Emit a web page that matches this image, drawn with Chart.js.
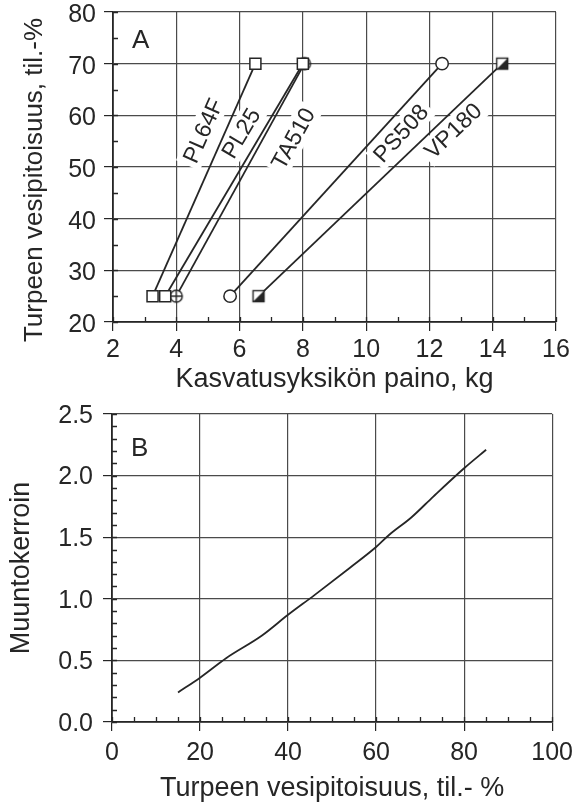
<!DOCTYPE html>
<html lang="fi">
<head>
<meta charset="UTF-8">
<title>Turpeen vesipitoisuus ja kasvatusyksikön paino</title>
<script src="https://cdn.jsdelivr.net/npm/chart.js"></script>
<style>
    body {
        margin: 0;
        background: #fff;
        width: 580px;
        height: 806px;
        overflow: hidden;
        position: relative;
    }
    .panel {
        position: absolute;
        left: 0;
        width: 580px;
    }
    #panelA { top: 0; height: 398px; }
    #panelB { top: 400px; height: 406px; }
</style>
</head>
<body>
<div class="panel" id="panelA"><canvas id="chartA"></canvas></div>
<div class="panel" id="panelB"><canvas id="chartB"></canvas></div>

<script>
// --- Panel A: kasvatusyksikön paino vs. turpeen vesipitoisuus ---
const products    = ["PL64F", "PL25", "TA510", "PS508", "VP180"];
const weightAt25  = [3.25, 3.65, 4.0, 5.7, 6.6];     // kg
const weightAt70  = [6.5, 8.0, 8.05, 12.4, 14.3];    // kg
const moistureLow  = 25;
const moistureHigh = 70;
// where the product names sit (kg, til.-%)
const nameX = [4.85, 6.05, 7.7, 11.1, 12.75];
const nameY = [57, 56.5, 55.5, 56.5, 57];

// --- Panel B: muuntokerroin ---
const moistureB = [15, 20, 26, 34, 40, 46, 54, 60, 63, 68, 73, 80, 85];
const factorB   = [0.24, 0.36, 0.52, 0.70, 0.87, 1.03, 1.25, 1.42, 1.52, 1.66, 1.83, 2.06, 2.21];

const INK = '#262626';
const GRID = '#4a4a4a';
const FONT = '"Liberation Sans", Arial, sans-serif';

// marker images
function marker(draw) {
    const c = document.createElement('canvas');
    c.width = 16; c.height = 16;
    const g = c.getContext('2d');
    g.strokeStyle = INK;
    g.fillStyle = '#fff';
    g.lineWidth = 1.4;
    draw(g);
    return c;
}
const crossedCircle = marker(g => {
    g.beginPath(); g.arc(8, 8, 6, 0, Math.PI * 2); g.fill(); g.stroke();
    g.beginPath(); g.moveTo(2, 8); g.lineTo(14, 8); g.moveTo(8, 2); g.lineTo(8, 14); g.stroke();
});
const halfSquare = marker(g => {
    g.fillRect(2.5, 2.5, 11, 11);
    g.fillStyle = INK;
    g.beginPath(); g.moveTo(13.5, 2.5); g.lineTo(13.5, 13.5); g.lineTo(2.5, 13.5); g.closePath(); g.fill();
    g.strokeRect(2.5, 2.5, 11, 11);
});
const pointStyles = ['rect', 'rect', crossedCircle, 'circle', halfSquare];
const pointSizes  = [7.8, 7.8, 6, 6.2, 6];

// inward minor ticks along left and bottom axes
const minorTicks = {
    id: 'minorTicks',
    afterDraw(chart, args, opts) {
        const {ctx, chartArea: a, scales: {x, y}} = chart;
        ctx.save();
        ctx.strokeStyle = INK;
        ctx.lineWidth = 1.3;
        ctx.beginPath();
        for (let v = x.min; v <= x.max + 1e-9; v += opts.xStep) {
            const p = Math.round(x.getPixelForValue(v)) + 0.5;
            ctx.moveTo(p, a.bottom); ctx.lineTo(p, a.bottom - 5);
        }
        for (let v = y.min; v <= y.max + 1e-9; v += opts.yStep) {
            const p = Math.round(y.getPixelForValue(v)) + 0.5;
            ctx.moveTo(a.left, p); ctx.lineTo(a.left + 5, p);
        }
        ctx.stroke();
        ctx.restore();
    }
};

// panel letter A / B
const panelLetter = {
    id: 'panelLetter',
    afterDraw(chart, args, opts) {
        const {ctx, scales: {x, y}} = chart;
        ctx.save();
        ctx.fillStyle = INK;
        ctx.font = '26px ' + FONT;
        ctx.textBaseline = 'alphabetic';
        ctx.fillText(opts.text, x.getPixelForValue(opts.x), y.getPixelForValue(opts.y));
        ctx.restore();
    }
};

// y title of panel A sits a bit lower than the plot centre
const sideTitle = {
    id: 'sideTitle',
    afterDraw(chart, args, opts) {
        const {ctx} = chart;
        ctx.save();
        ctx.fillStyle = INK;
        ctx.font = '26px ' + FONT;
        ctx.textAlign = 'center';
        ctx.textBaseline = 'middle';
        ctx.translate(opts.x, opts.y);
        ctx.rotate(-Math.PI / 2);
        ctx.fillText(opts.text, 0, 0);
        ctx.restore();
    }
};

// product names along the lines, on white boxes
const lineNames = {
    id: 'lineNames',
    beforeDatasetsDraw(chart) {
        const {ctx, scales: {x, y}} = chart;
        ctx.save();
        ctx.font = '23px ' + FONT;
        ctx.textAlign = 'center';
        ctx.textBaseline = 'middle';
        products.forEach((name, i) => {
            const dx = x.getPixelForValue(weightAt70[i]) - x.getPixelForValue(weightAt25[i]);
            const dy = y.getPixelForValue(moistureHigh) - y.getPixelForValue(moistureLow);
            const ang = Math.atan2(dy, dx);
            ctx.save();
            ctx.translate(x.getPixelForValue(nameX[i]), y.getPixelForValue(nameY[i]));
            ctx.rotate(ang);
            const w = ctx.measureText(name).width;
            ctx.fillStyle = '#fff';
            ctx.fillRect(-w / 2 - 4, -13, w + 8, 26);
            ctx.fillStyle = INK;
            ctx.fillText(name, 0, 1);
            ctx.restore();
        });
        ctx.restore();
    }
};

Chart.defaults.font.family = FONT;
Chart.defaults.color = INK;
Chart.defaults.animation = false;

function axis(opts) {
    return {
        type: 'linear',
        min: opts.min,
        max: opts.max,
        border: { color: INK, width: 1.8 },
        grid: {
            color: ctx => opts.isMajor(ctx.tick.value) ? GRID : 'rgba(0,0,0,0)',
            tickColor: ctx => opts.isMajor(ctx.tick.value) ? INK : 'rgba(0,0,0,0)',
            lineWidth: 1.2,
            tickLength: 9
        },
        ticks: {
            stepSize: opts.step,
            autoSkip: false,
            maxRotation: 0,
            padding: opts.tickPad,
            labelOffset: opts.labelOffset || 0,
            font: { size: 25 },
            color: INK,
            callback: v => opts.isMajor(v) ? opts.fmt(v) : ''
        },
        title: {
            display: opts.title !== '',
            text: opts.title,
            font: { size: 27 },
            color: INK,
            padding: opts.titlePad
        },
        afterFit: s => {
            if (opts.width) { s.width = opts.width; s.paddingTop = 0; s.paddingBottom = 0; }
            if (opts.height) s.height = opts.height;
        }
    };
}

const near = (v, m) => Math.abs(v / m - Math.round(v / m)) < 1e-6;

new Chart(document.getElementById('chartA'), {
    type: 'scatter',
    data: {
        datasets: products.map((name, i) => ({
            label: name,
            data: [{x: weightAt25[i], y: moistureLow}, {x: weightAt70[i], y: moistureHigh}],
            showLine: true,
            borderColor: INK,
            borderWidth: 1.8,
            pointStyle: pointStyles[i],
            pointRadius: pointSizes[i],
            pointBackgroundColor: '#fff',
            pointBorderColor: INK,
            pointBorderWidth: 1.5
        }))
    },
    options: {
        responsive: true,
        maintainAspectRatio: false,
        layout: { padding: { top: 12, right: 24, left: 0, bottom: 0 } },
        plugins: {
            legend: { display: false },
            tooltip: { enabled: false },
            minorTicks: { xStep: 1, yStep: 5 },
            panelLetter: { text: 'A', x: 2.6, y: 73.05 },
            sideTitle: { text: 'Turpeen vesipitoisuus, til.-%', x: 35, y: 180 }
        },
        scales: {
            x: axis({ min: 2, max: 16, step: 1, isMajor: v => near(v, 2), fmt: v => v,
                      title: 'Kasvatusyksikön paino, kg', tickPad: 4, titlePad: { top: 0, bottom: 2 }, height: 76 }),
            y: axis({ min: 20, max: 80, step: 5, isMajor: v => near(v, 10), fmt: v => v,
                      title: '', tickPad: 8, labelOffset: 3, width: 113 })
        }
    },
    plugins: [minorTicks, panelLetter, sideTitle, lineNames]
});

new Chart(document.getElementById('chartB'), {
    type: 'scatter',
    data: {
        datasets: [{
            label: 'Muuntokerroin',
            data: moistureB.map((m, i) => ({x: m, y: factorB[i]})),
            showLine: true,
            cubicInterpolationMode: 'monotone',
            borderColor: INK,
            borderWidth: 1.8,
            pointRadius: 0
        }]
    },
    options: {
        responsive: true,
        maintainAspectRatio: false,
        layout: { padding: { top: 14, right: 26, left: 0, bottom: 0 } },
        plugins: {
            legend: { display: false },
            tooltip: { enabled: false },
            minorTicks: { xStep: 5, yStep: 0.1 },
            panelLetter: { text: 'B', x: 4.3, y: 2.16 }
        },
        scales: {
            x: axis({ min: 0, max: 100, step: 5, isMajor: v => near(v, 20), fmt: v => v,
                      title: 'Turpeen vesipitoisuus, til.- %', tickPad: 7, titlePad: { top: 0, bottom: 1 }, height: 84 }),
            y: axis({ min: 0, max: 2.5, step: 0.1, isMajor: v => near(v, 0.5), fmt: v => v.toFixed(1),
                      title: 'Muuntokerroin', tickPad: 10, labelOffset: 2, titlePad: { top: 5, bottom: 0 }, width: 112 })
        }
    },
    plugins: [minorTicks, panelLetter]
});
</script>
</body>
</html>
